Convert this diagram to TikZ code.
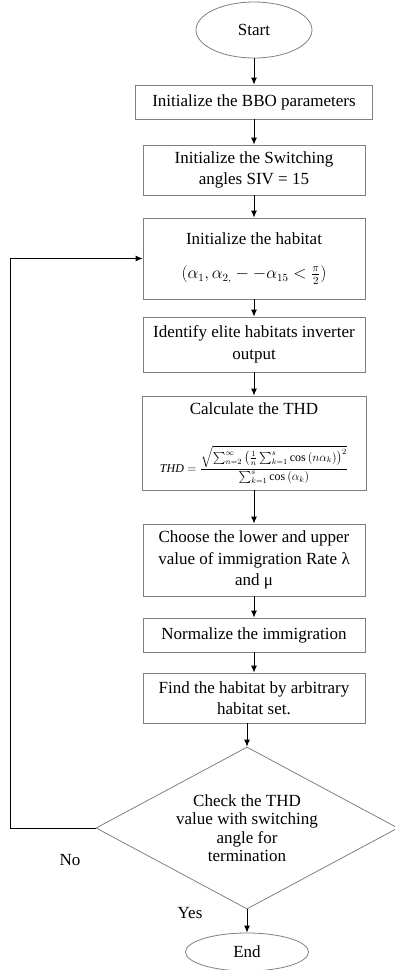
\documentclass[tikz,border=0pt]{standalone}
\usepackage{fontspec}
\setmainfont{Liberation Serif}
\usepackage{amsmath}
\usetikzlibrary{shapes.geometric,arrows.meta}
\definecolor{Frame}{rgb}{0.5,0.5,0.5}
\tikzset{
    flowbox/.style={draw=Frame, line width=0.8pt, minimum width=222pt, align=center, inner sep=2pt,
        font=\fontsize{17}{21.5}\selectfont},
    terminal/.style={ellipse, draw=Frame, line width=0.8pt, inner sep=0pt,
        font=\fontsize{17}{21.5}\selectfont},
    flowarrow/.style={-{Latex[length=7pt,width=6pt]}, line width=0.9pt},
}

\begin{document}
\begin{tikzpicture}[x=1pt, y=-1pt]
        % Define the dimensions of the chart
        \def\midx{254} % centre line of the boxes
        \def\loopx{10} % x of the return line
        \useasboundingbox (0,0) rectangle (395,970);

        % Start and end
        \node[terminal, minimum width=116pt, minimum height=56pt] (start) at (\midx,30) {Start};
        \node[terminal, minimum width=123pt, minimum height=38pt] (stop) at (247,952) {End};

        % Process boxes
        \node[flowbox, minimum width=237pt, minimum height=34pt] (bbo) at (\midx,102) {Initialize the BBO parameters};
        \node[flowbox, minimum height=50pt] (siv) at (\midx,170) {Initialize the Switching\\angles SIV = 15};
        \node[flowbox, minimum height=81pt] (habitat) at (\midx,258.5) {Initialize the habitat\\[13pt]
            {\fontsize{16}{18}\selectfont $(\alpha_1,\alpha_{2,}--\alpha_{15}<\frac{\pi}{2})$}};
        \node[flowbox, minimum height=55pt] (elite) at (\midx,344.5) {Identify elite habitats inverter\\output};
        \node[flowbox, minimum width=224pt, minimum height=94pt] (thd) at (\midx,443) {Calculate the THD\\[30pt]
            {\fontsize{12}{14}\selectfont $\mathit{THD}=\dfrac{\sqrt{\textstyle\sum_{n=2}^{\infty}\left(\frac{1}{n}\sum_{k=1}^{s}\cos\,(n\alpha_k)\right)^2}}{\textstyle\sum_{k=1}^{s}\cos\,(\alpha_k)}$}};
        \node[flowbox, minimum height=72pt] (rate) at (\midx,560) {Choose the lower and upper\\value of immigration Rate λ\\and μ};
        \node[flowbox, minimum height=34pt] (norm) at (\midx,635) {Normalize the immigration};
        \node[flowbox, minimum height=50pt] (find) at (\midx,698) {Find the habitat by arbitrary\\habitat set.};

        % Decision
        \node[diamond, draw=Frame, line width=0.8pt, aspect=1.86, inner sep=0pt, minimum width=302pt,
            minimum height=162pt, align=center, font=\fontsize{17}{18.5}\selectfont] (check) at (247,828)
            {Check the THD\\value with switching\\angle for\\termination};

        % Draw the arrows down the chart
        \foreach \a/\b in {start/bbo, bbo/siv, siv/habitat, habitat/elite, elite/thd, thd/rate, rate/norm, norm/find} {
            \draw[flowarrow] (\a.south) -- (\b.north);
        }
        \draw[flowarrow] (find.south -| check.north) -- (check.north);
        \draw[flowarrow] (check.south) -- (stop.north);

        % Return line for the loop
        \coordinate (loop) at (\loopx,0);
        \draw[flowarrow] (check.west) -- (check.west -| loop) -- (habitat.west -| loop) -- (habitat.west);

        % Add the branch labels
        \node[font=\fontsize{17}{20}\selectfont] (no) at (70,860) {No};
        \node[font=\fontsize{17}{20}\selectfont] (yes) at (190,913) {Yes};
    \end{tikzpicture}
\end{document}
